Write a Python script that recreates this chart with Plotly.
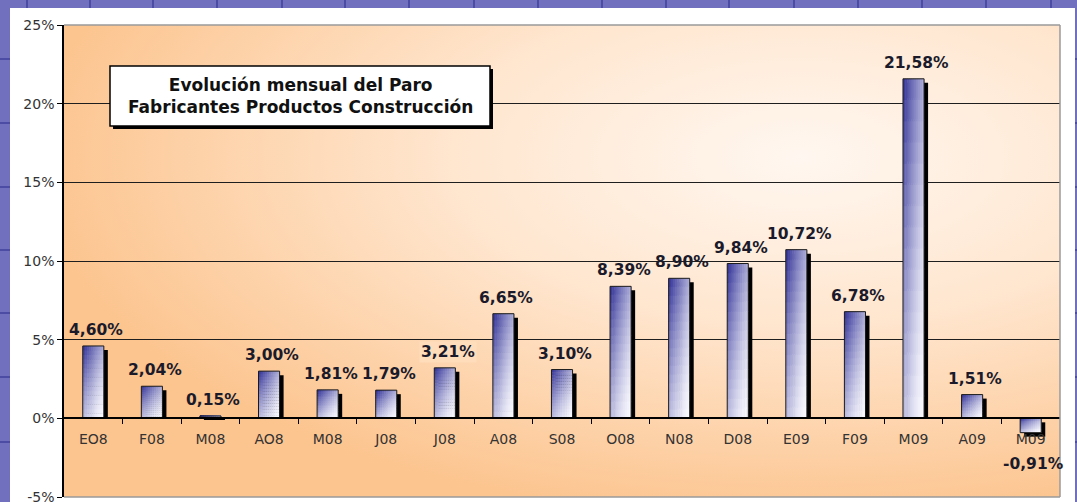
import base64
import plotly.graph_objects as go

# ---- data ---------------------------------------------------------------
MONTHS = ["EO8", "F08", "M08", "AO8", "M08", "J08", "J08", "A08", "S08",
          "O08", "N08", "D08", "E09", "F09", "M09", "A09", "M09"]
CHANGE = [4.60, 2.04, 0.15, 3.00, 1.81, 1.79, 3.21, 6.65, 3.10,
          8.39, 8.90, 9.84, 10.72, 6.78, 21.58, 1.51, -0.91]
Y_TICKS = [-5, 0, 5, 10, 15, 20, 25]
TITLE = "Evolución mensual del Paro<br>Fabricantes Productos Construcción"

# ---- geometry / style ---------------------------------------------------
W, H = 1077, 502
ML, MR, MT, MB = 64, 17, 25, 5
PW, PH = W - ML - MR, H - MT - MB
Y_RANGE = (-5, 25)
PX_PER_UNIT = PH / (Y_RANGE[1] - Y_RANGE[0])
CAT_PX = PW / len(MONTHS)

BAR_W = 0.36                   # fraction of a category
SHADOW_DX = 4 / CAT_PX         # shadow offset, category units
SHADOW_DY = 4 / PX_PER_UNIT    # shadow offset, % units
NCOL, NROW = 10, 16            # gradient slices

DARK = (46, 46, 150)
LIGHT = (250, 250, 255)
FONT = "DejaVu Sans"
PURPLE = "#7070be"
CELL_LINE = "#4c4ca4"


def px(x):
    return (x - ML) / PW


def py(y):
    return (H - MB - y) / PH


def mix(d):
    d = max(0.0, min(1.0, d)) ** 1.5
    r, g, b = (round(LIGHT[i] + (DARK[i] - LIGHT[i]) * d) for i in range(3))
    return f"rgb({r},{g},{b})"


xs = list(range(len(MONTHS)))
fig = go.Figure()

# drop shadow behind each bar
fig.add_trace(go.Bar(
    x=xs,
    y=[(v - SHADOW_DY) if v > 0 else v for v in CHANGE],
    base=[0 if v > 0 else -SHADOW_DY for v in CHANGE],
    width=BAR_W, offset=-BAR_W / 2 + SHADOW_DX,
    marker=dict(color="black", line=dict(width=0)),
    hoverinfo="skip", showlegend=False,
))

# diagonal gradient fill built from small slices
sw = BAR_W / NCOL
for k in range(NCOL):
    u = (k + 0.5) / NCOL
    for j in range(NROW):
        vpos = (j + 0.5) / NROW
        heights, bases, colors = [], [], []
        for v in CHANGE:
            extra = 1.1 if j < NROW - 1 else 1.0
            heights.append(v / NROW * extra)
            bases.append(v * j / NROW)
            vv = vpos if v > 0 else 1 - vpos
            colors.append(mix(0.47 * (1 - u) + 0.53 * vv))
        fig.add_trace(go.Bar(
            x=xs, y=heights, base=bases,
            width=sw * (1.3 if k < NCOL - 1 else 1.0),
            offset=-BAR_W / 2 + k * sw,
            marker=dict(color=colors, line=dict(width=0)),
            hoverinfo="skip", showlegend=False,
        ))

# outline
fig.add_trace(go.Bar(
    x=xs, y=CHANGE,
    width=BAR_W, offset=-BAR_W / 2,
    marker=dict(color="rgba(0,0,0,0)", line=dict(width=1, color="#1a1a1a")),
    hovertemplate="%{y:.2f}%<extra></extra>", showlegend=False,
))

# value labels
for i, v in enumerate(CHANGE):
    txt = f"{v:.2f}".replace(".", ",") + "%"
    if v >= 0:
        fig.add_annotation(x=i, y=v, text=f"<b>{txt}</b>", showarrow=False,
                           yanchor="bottom", yshift=5, xshift=3,
                           bgcolor="rgba(255,222,188,0.9)" if i == 6 else None,
                           font=dict(family=FONT, size=15.5, color="#1a1a2a"))
    else:
        fig.add_annotation(x=i, y=v, text=f"<b>{txt}</b>", showarrow=False,
                           yanchor="top", yshift=-20, xshift=3,
                           font=dict(family=FONT, size=15.5, color="#1a1a2a"))

# orange radial background of the plot area
svg = (
    "<svg xmlns='http://www.w3.org/2000/svg' width='996' height='472' "
    "preserveAspectRatio='none'><defs>"
    "<radialGradient id='g' cx='0.74' cy='0.28' r='0.78'>"
    "<stop offset='0' stop-color='#fff7f0'/>"
    "<stop offset='0.45' stop-color='#ffe6cf'/>"
    "<stop offset='1' stop-color='#fcc48e'/>"
    "</radialGradient></defs>"
    "<rect width='100%' height='100%' fill='url(#g)'/></svg>"
)
src = "data:image/svg+xml;base64," + base64.b64encode(svg.encode()).decode()
fig.add_layout_image(source=src, xref="paper", yref="paper", x=0, y=1,
                     sizex=1, sizey=1, sizing="stretch", layer="below",
                     xanchor="left", yanchor="top")

shapes = []
# spreadsheet background strips around the white chart area
for x0, x1, y0, y1 in [(0, 10, 0, H), (1075, W, 0, H), (0, W, 0, 8)]:
    shapes.append(dict(type="rect", xref="paper", yref="paper",
                       x0=px(x0), x1=px(x1), y0=py(y1), y1=py(y0),
                       fillcolor=PURPLE, line=dict(width=0), layer="below"))
for gx in [27, 90, 153, 217, 282, 345, 409, 474, 538, 602, 666, 729,
           794, 858, 922, 986, 1051]:
    shapes.append(dict(type="line", xref="paper", yref="paper",
                       x0=px(gx), x1=px(gx), y0=py(8), y1=py(0),
                       line=dict(color=CELL_LINE, width=2), layer="below"))
for gy in [59, 123, 187, 250, 313, 377, 442]:
    for a, b in [(0, 10), (1075, W)]:
        shapes.append(dict(type="line", xref="paper", yref="paper",
                           x0=px(a), x1=px(b), y0=py(gy), y1=py(gy),
                           line=dict(color=CELL_LINE, width=2), layer="below"))

# plot area border (top, right, bottom)
for x0, x1, y0, y1 in [(0, 1, 1, 1), (1, 1, 0, 1), (0, 1, 0, 0)]:
    shapes.append(dict(type="line", xref="paper", yref="paper",
                       x0=x0, x1=x1, y0=y0, y1=y1,
                       line=dict(color="#9a9a9a", width=1.5), layer="above"))

# title box with shadow
bx0, bx1, by0, by1 = 110, 490, 66, 126
shapes.append(dict(type="rect", xref="paper", yref="paper",
                   x0=px(bx0 + 3), x1=px(bx1 + 3), y0=py(by1 + 3), y1=py(by0 + 3),
                   fillcolor="black", line=dict(width=0), layer="above"))
shapes.append(dict(type="rect", xref="paper", yref="paper",
                   x0=px(bx0), x1=px(bx1), y0=py(by1), y1=py(by0),
                   fillcolor="white", line=dict(color="black", width=1.5),
                   layer="above"))
fig.add_annotation(xref="paper", yref="paper", x=px((bx0 + bx1) / 2),
                   y=py((by0 + by1) / 2), xanchor="center", yanchor="middle",
                   text=f"<b>{TITLE}</b>", showarrow=False, align="center",
                   font=dict(family=FONT, size=17, color="#111"))

zero_pos = (0 - Y_RANGE[0]) / (Y_RANGE[1] - Y_RANGE[0])

fig.update_layout(
    width=W, height=H,
    margin=dict(l=ML, r=MR, t=MT, b=MB),
    paper_bgcolor="white",
    plot_bgcolor="rgba(0,0,0,0)",
    barmode="overlay",
    showlegend=False,
    shapes=shapes,
    xaxis=dict(
        tickmode="array", tickvals=xs, ticktext=MONTHS,
        range=[-0.5, len(MONTHS) - 0.5],
        anchor="free", position=zero_pos, automargin=False,
        showline=True, linecolor="black", linewidth=1.5,
        ticks="", showgrid=False, zeroline=False,
        ticklabelstandoff=8,
        minor=dict(tickvals=[i + 0.5 for i in xs[:-1]], ticks="outside",
                   ticklen=5, tickcolor="black", showgrid=False),
        tickfont=dict(family=FONT, size=14, color="#333"),
    ),
    yaxis=dict(
        range=list(Y_RANGE), tickmode="array", tickvals=Y_TICKS,
        ticktext=[f"{t}%" for t in Y_TICKS],
        domain=[0, 1], ticklabeloverflow="allow", automargin=False,
        showline=True, linecolor="black", linewidth=1.5,
        ticks="outside", ticklen=5, tickcolor="black",
        showgrid=True, gridcolor="#1e1e1e", gridwidth=1,
        zeroline=False,
        tickfont=dict(family=FONT, size=14, color="#333"),
    ),
)

fig.write_html("out.html", config={"displayModeBar": False},
               post_script="document.body.style.margin='0';")
